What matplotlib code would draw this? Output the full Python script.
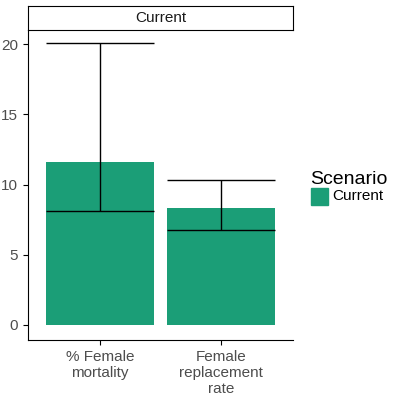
import matplotlib
matplotlib.use('Agg')
import matplotlib.pyplot as plt
from matplotlib.patches import Rectangle

plt.rcParams['font.family'] = ['Liberation Sans', 'DejaVu Sans']

categories = ['% Female\nmortality', 'Female\nreplacement\nrate']
values = [11.6, 8.3]
err_low = [8.1, 6.75]
err_high = [20.05, 10.35]
colour = '#1B9E77'

fig = plt.figure(figsize=(4, 4), dpi=100)
ax = fig.add_axes([0.07, 0.15, 0.6625, 0.775])
x = [1, 2]
ax.bar(x, values, width=0.9, color=colour)
ax.vlines(x, err_low, err_high, color='black', linewidth=1)
for xi, lo, hi in zip(x, err_low, err_high):
    ax.hlines([lo, hi], xi - 0.45, xi + 0.45, color='black', linewidth=1)
ax.set_xlim(0.405, 2.595)
ax.set_ylim(-1.07, 21)
ax.set_xticks(x)
ax.set_xticklabels(categories, fontsize=11, color='#4d4d4d')
ax.set_yticks([0, 5, 10, 15, 20])
ax.tick_params(axis='y', labelsize=11, labelcolor='#4d4d4d')
for s in ['top', 'right']:
    ax.spines[s].set_visible(False)

strip = fig.add_axes([0.07, 0.925, 0.6625, 0.06])
strip.set_xticks([]); strip.set_yticks([])
strip.text(0.5, 0.5, 'Current', ha='center', va='center', fontsize=11, color='#1a1a1a')

fig.text(0.775, 0.55, 'Scenario', fontsize=14, va='center')
fig.patches.append(Rectangle((0.777, 0.488), 0.043, 0.043, transform=fig.transFigure, color=colour))
fig.text(0.83, 0.51, 'Current', fontsize=11, va='center')

fig.savefig('out.png', dpi=100)
